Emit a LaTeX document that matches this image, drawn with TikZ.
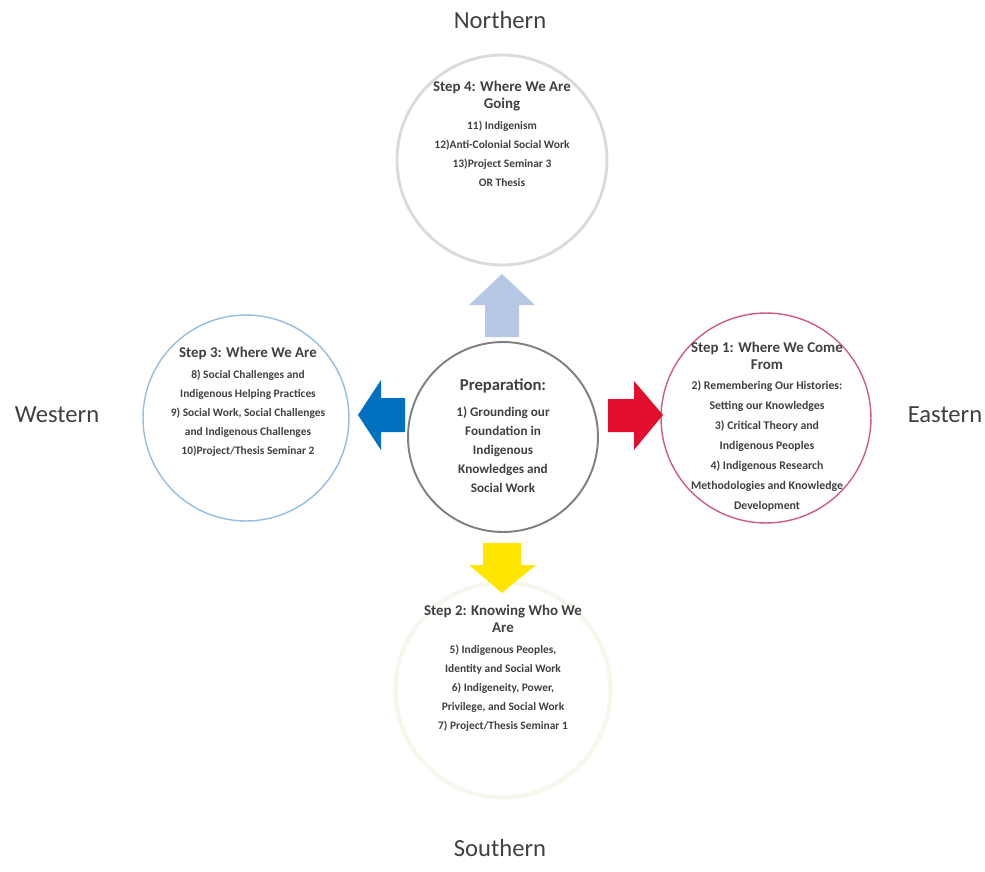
\documentclass[tikz,border=0pt]{standalone}
\usepackage{fontspec}
\setmainfont{Carlito}
\usetikzlibrary{positioning}

\definecolor{txtgray}{RGB}{64,64,64}
\definecolor{arrowsky}{RGB}{183,200,228}
\definecolor{arrowblue}{RGB}{0,112,192}
\definecolor{arrowred}{RGB}{226,16,46}
\definecolor{arrowyellow}{RGB}{255,230,0}
\definecolor{ringgray}{RGB}{128,128,128}
\definecolor{ringlight}{RGB}{218,218,218}
\definecolor{ringblue}{RGB}{150,190,225}
\definecolor{ringred}{RGB}{205,95,125}
\definecolor{ringfaint}{RGB}{247,247,238}

\tikzset{
  ring/.style={circle,inner sep=0pt},
  steptxt/.style={align=center,text=txtgray,
    font=\fontsize{6.5}{10.8}\selectfont\bfseries},
  compass/.style={text=txtgray,
    font=\fontsize{14}{16}\selectfont}
}
\newcommand{\stephead}{\fontsize{8.5}{9.7}\selectfont}

\begin{document}
\begin{tikzpicture}[x=0.02cm,y=-0.02cm]

\fill[white] (0,0) rectangle (985,872);
\useasboundingbox (0,0) rectangle (985,872);

\node[ring,draw=ringlight,line width=1.6pt,minimum size=4.2cm]
     at (502,160) (northRing) {};
\node[ring,draw=ringgray,line width=1.1pt,minimum size=3.8cm]
     at (503,437) (prepRing) {};
\node[ring,draw=ringblue,line width=0.8pt,minimum size=4.12cm]
     at (246,418) (westRing) {};
\node[ring,draw=ringred,line width=0.8pt,minimum size=4.2cm]
     at (766,418) (eastRing) {};
\node[ring,draw=ringfaint,line width=2.4pt,minimum size=4.3cm]
     at (503,690) (southRing) {};

\node[steptxt] at (502,134) (northTxt)
     {{\stephead Step 4: Where We Are}\\[-1pt]
      {\stephead Going}\\[1pt]
      11) Indigenism\\
      12)Anti-Colonial Social Work\\
      13)Project Seminar 3\\
      OR Thesis};

\node[steptxt] at (248,402) (westTxt)
     {{\stephead Step 3: Where We Are}\\[1pt]
      8) Social Challenges and\\
      Indigenous Helping Practices\\
      9) Social Work, Social Challenges\\
      and Indigenous Challenges\\
      10)Project/Thesis Seminar 2};

\node[steptxt,font=\fontsize{7.5}{10.8}\selectfont\bfseries]
     at (503,436) (prepTxt)
     {{\fontsize{9.5}{11}\selectfont Preparation:}\\[4pt]
      1) Grounding our\\
      Foundation in\\
      Indigenous\\
      Knowledges and\\
      Social Work};

\node[steptxt,font=\fontsize{6.7}{11.4}\selectfont\bfseries]
     at (767,427) (eastTxt)
     {{\stephead Step 1: Where We Come}\\[-2pt]
      {\stephead From}\\
      2) Remembering Our Histories:\\
      Setting our Knowledges\\
      3) Critical Theory and\\
      Indigenous Peoples\\
      4) Indigenous Research\\
      Methodologies and Knowledge\\
      Development};

\node[steptxt] at (503,668) (southTxt)
     {{\stephead Step 2: Knowing Who We}\\[-1pt]
      {\stephead Are}\\[1pt]
      5) Indigenous Peoples,\\
      Identity and Social Work\\
      6) Indigeneity, Power,\\
      Privilege, and Social Work\\
      7) Project/Thesis Seminar 1};

\fill[arrowsky]
     (502,274) -- (535,305) -- (519,305) -- (519,337)
     -- (485,337) -- (485,305) -- (469,305) -- cycle;
\fill[arrowblue]
     (358,415) -- (381,380) -- (381,398) -- (405,398)
     -- (405,432) -- (381,432) -- (381,450) -- cycle;
\fill[arrowred]
     (663,415) -- (634,381) -- (634,399) -- (608,399)
     -- (608,432) -- (634,432) -- (634,450) -- cycle;
\fill[arrowyellow]
     (502,593) -- (536,565) -- (521,565) -- (521,543)
     -- (483,543) -- (483,565) -- (469,565) -- cycle;

\node[compass] at (500,20) (northLbl) {Northern};
\node[compass] at (57,415) (westLbl) {Western};
\node[compass] at (945,415) (eastLbl) {Eastern};
\node[compass] at (500,848) (southLbl) {Southern};

\end{tikzpicture}
\end{document}
